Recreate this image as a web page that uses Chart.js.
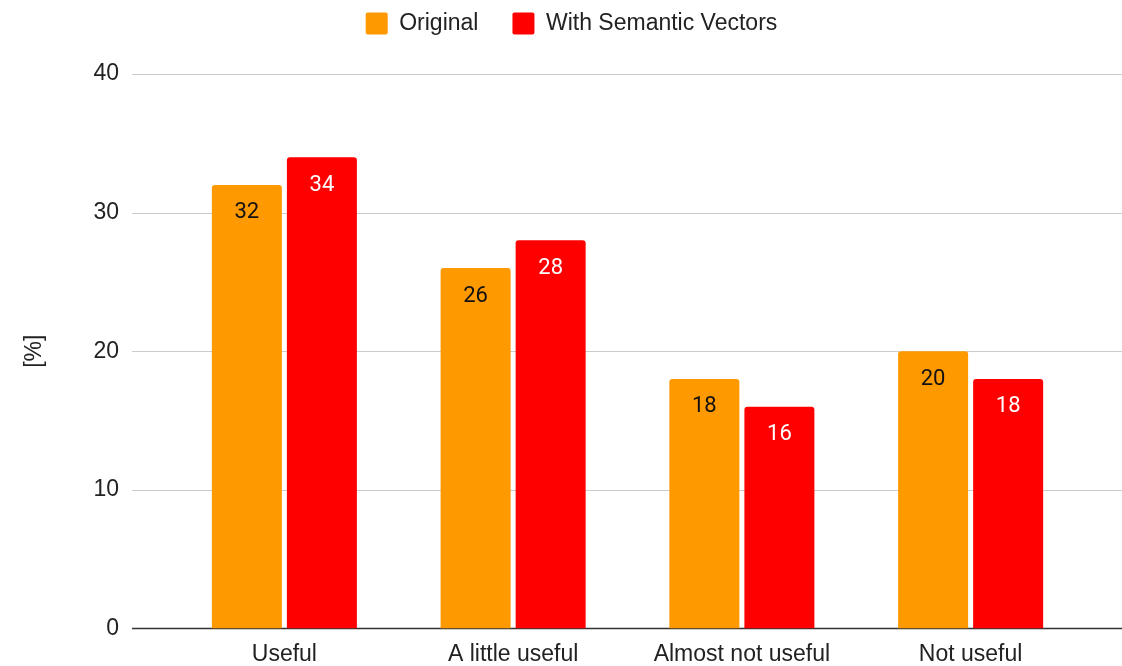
<!DOCTYPE html>
<html>
  <head>
    <script src="https://cdn.jsdelivr.net/npm/chart.js"></script>
    <style>
      body { margin: 0; background: white; }
    </style>
  </head>
  <body>
    <canvas id="bars" width="1122" height="666"></canvas>

    <script>
      const categories = ["Useful", "A little useful", "Almost not useful", "Not useful"];
      const original = [32, 26, 18, 20];
      const withVectors = [34, 28, 16, 18];
      const yTicks = [0, 10, 20, 30, 40];

      // grid lines run the full width, wider than the bar area
      const wideGrid = {
        id: "wideGrid",
        beforeDatasetsDraw(chart) {
          const ctx = chart.ctx;
          const y = chart.scales.y;
          ctx.save();
          yTicks.forEach((v) => {
            const py = Math.round(y.getPixelForValue(v)) + 0.5;
            ctx.strokeStyle = v === 0 ? "#333333" : "#cccccc";
            ctx.lineWidth = v === 0 ? 1.5 : 1;
            ctx.beginPath();
            ctx.moveTo(132, py);
            ctx.lineTo(1122, py);
            ctx.stroke();
          });
          ctx.restore();
        },
      };

      const barLabels = {
        id: "barLabels",
        afterDatasetsDraw(chart) {
          const ctx = chart.ctx;
          ctx.save();
          ctx.font = "22px Roboto";
          ctx.textAlign = "center";
          ctx.textBaseline = "middle";
          chart.data.datasets.forEach((ds, i) => {
            ctx.fillStyle = i === 0 ? "#111111" : "#ffffff";
            chart.getDatasetMeta(i).data.forEach((bar, j) => {
              ctx.fillText(ds.data[j], bar.x, bar.y + 28);
            });
          });
          ctx.restore();
        },
      };

      // extra room between legend and plot
      const legendGap = {
        id: "legendGap",
        beforeInit(chart) {
          const fit = chart.legend.fit;
          chart.legend.fit = function () {
            fit.bind(chart.legend)();
            this.height += 29;
          };
        },
      };

      new Chart(document.getElementById("bars"), {
        type: "bar",
        data: {
          labels: categories,
          datasets: [
            {
              label: "Original",
              data: original,
              backgroundColor: "#ff9900",
              borderRadius: { topLeft: 3, topRight: 3 },
              borderSkipped: false,
            },
            {
              label: "With Semantic Vectors",
              data: withVectors,
              backgroundColor: "#ff0000",
              borderRadius: { topLeft: 3, topRight: 3 },
              borderSkipped: false,
            },
          ],
        },
        options: {
          responsive: false,
          animation: false,
          devicePixelRatio: 1,
          categoryPercentage: 0.656,
          barPercentage: 0.933,
          layout: { padding: { left: 58, right: 37, top: -22, bottom: -6 } },
          scales: {
            x: {
              grid: { display: false },
              border: { display: false },
              ticks: {
                color: "#222222",
                font: { family: "Liberation Sans", size: 23 },
                padding: 4,
              },
            },
            y: {
              min: 0,
              max: 40,
              grid: { display: false },
              border: { display: false },
              ticks: {
                stepSize: 10,
                color: "#222222",
                font: { family: "Liberation Sans", size: 23 },
                padding: 43,
              },
              title: {
                display: true,
                text: "[%]",
                color: "#222222",
                font: { family: "Liberation Sans", size: 23 },
                padding: { top: -37 },
              },
              afterFit(axis) {
                axis.width = 112;
                // tick padding should not push the plot edges in
                axis.paddingTop = 14;
                axis.paddingBottom = 14;
              },
            },
          },
          plugins: {
            tooltip: { enabled: false },
            legend: {
              labels: {
                color: "#222222",
                font: { family: "Liberation Sans", size: 23 },
                boxWidth: 22,
                boxHeight: 22,
                padding: 34,
                useBorderRadius: true,
                borderRadius: 2,
              },
            },
          },
        },
        plugins: [wideGrid, barLabels, legendGap],
      });
    </script>
  </body>
</html>
